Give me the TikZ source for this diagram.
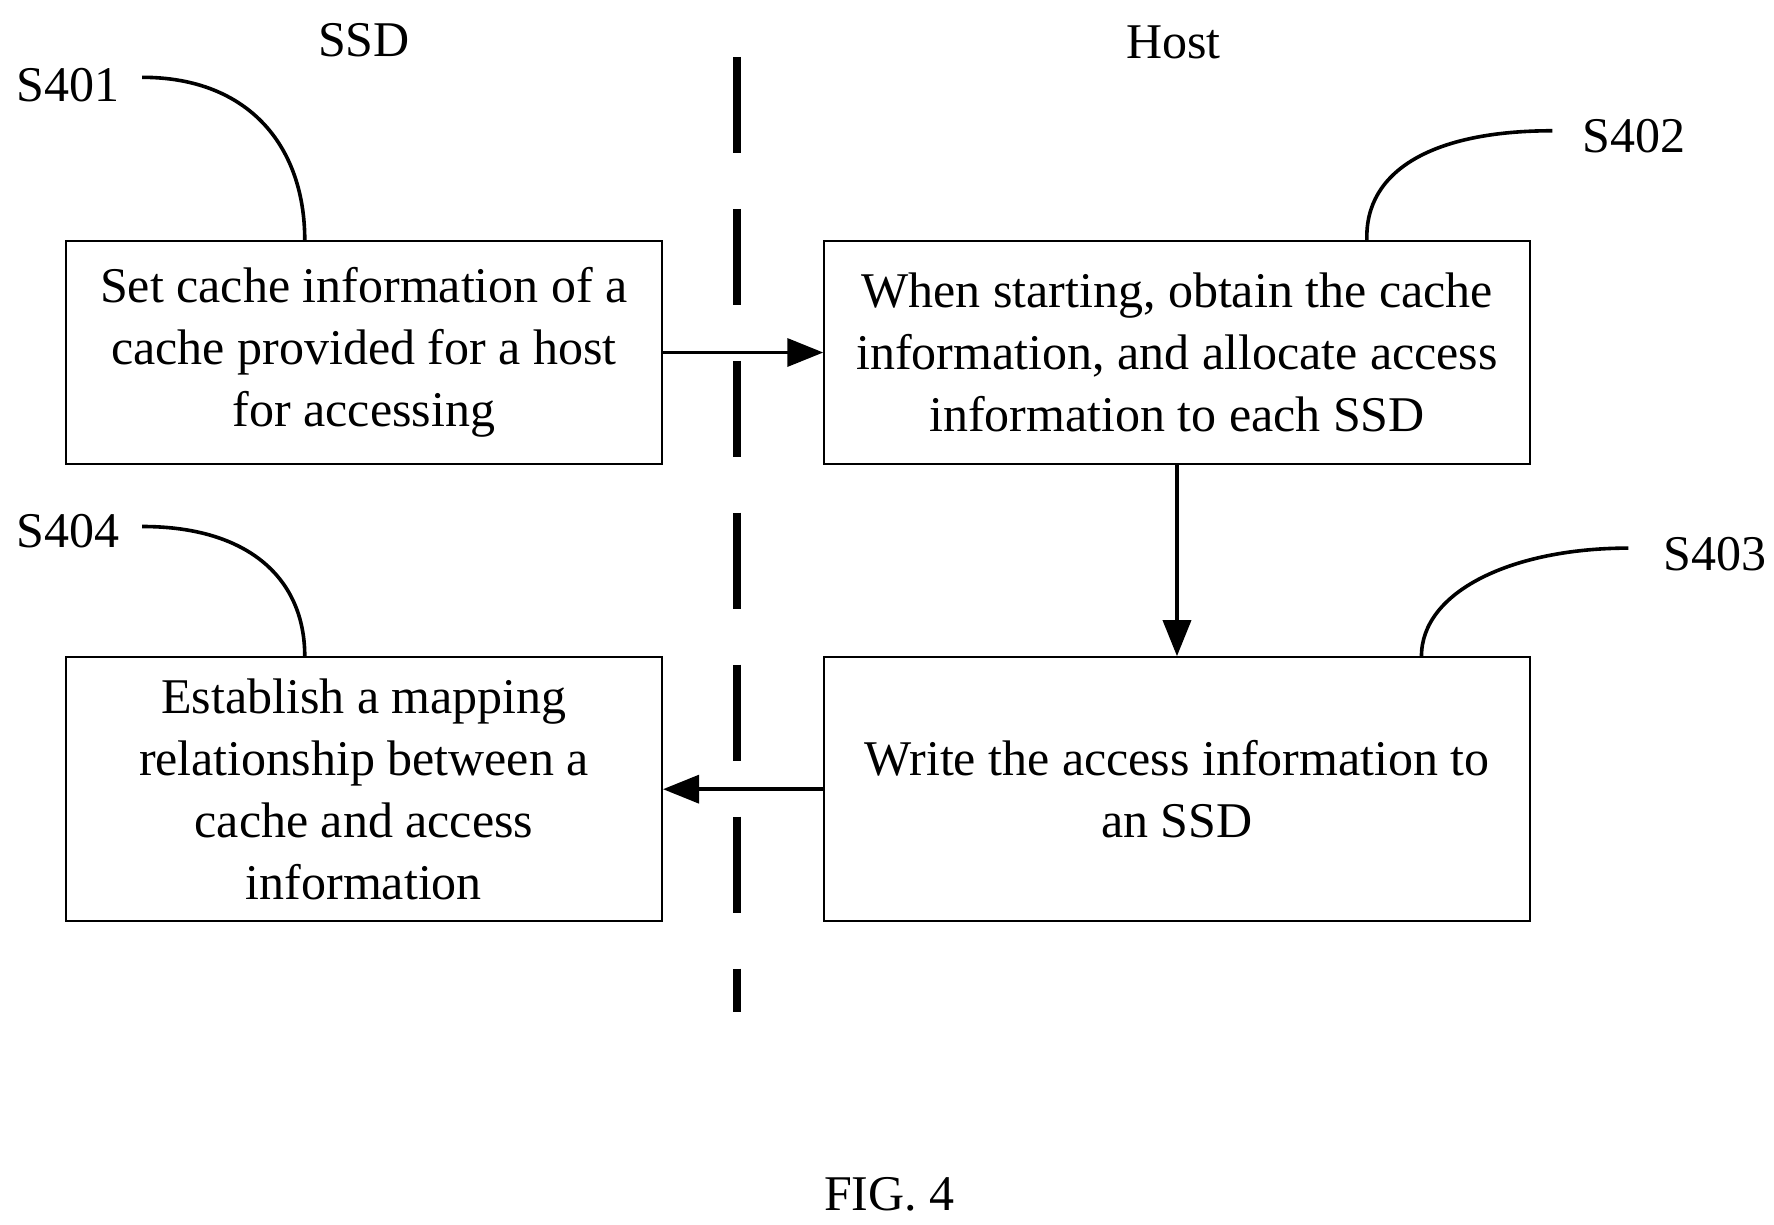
\documentclass[tikz,border=0pt]{standalone}
\usepackage{fontspec}
\setmainfont{Liberation Serif}
\usetikzlibrary{arrows.meta}
\begin{document}
\begin{tikzpicture}[x=0.01cm,y=-0.01cm,
 box/.style={draw,line width=0.5pt,align=center,font=\fontsize{12.5}{15.5}\selectfont,inner sep=0},
 lab/.style={font=\fontsize{12.5}{15}\selectfont},
 arr/.style={line width=0.9pt,-{Triangle[length=9pt,width=7pt]}},
 lead/.style={line width=0.9pt}]
\useasboundingbox (0,0) rectangle (1560,1077);
\node[box,minimum width=5.24cm,minimum height=1.96cm] (b1) at (320,310) {Set cache information of a\\cache provided for a host\\for accessing};
\node[box,minimum width=6.2cm,minimum height=1.96cm] (b2) at (1035,310) {When starting, obtain the cache\\information, and allocate access\\information to each SSD};
\node[box,minimum width=5.24cm,minimum height=2.32cm] (b4) at (320,694) {Establish a mapping\\relationship between a\\cache and access\\information};
\node[box,minimum width=6.2cm,minimum height=2.32cm] (b3) at (1035,694) {Write the access information to\\an SSD};
\node[lab] (ssd) at (320,35) {SSD};
\node[lab] (host) at (1032,37) {Host};
\node[lab] (fig) at (782,1050) {FIG. 4};
\node[lab] (l1) at (60,75) {S401};
\node[lab] (l2) at (1437,120) {S402};
\node[lab] (l3) at (1508,487) {S403};
\node[lab] (l4) at (60,467) {S404};
\coordinate (t) at (648,50); \coordinate (u) at (648,890);
\draw[line width=2pt,dash pattern=on 24pt off 14pt] (t) -- (u);
\coordinate (c1) at (125,68); \coordinate (c2) at (1365,115);
\coordinate (c3) at (1432,482); \coordinate (c4) at (125,463);
\draw[lead] (c1) .. controls (220,68) and (268,130) .. (b1.north -| 268,0);
\draw[lead] (c2) .. controls (1260,115) and (1200,150) .. (b2.north -| 1202,0);
\draw[lead] (c3) .. controls (1330,482) and (1250,520) .. (b3.north -| 1250,0);
\draw[lead] (c4) .. controls (220,463) and (268,510) .. (b4.north -| 268,0);
\draw[arr] (b1) -- (b2);
\draw[arr] (b2) -- (b3);
\draw[arr] (b3) -- (b4);
\end{tikzpicture}
\end{document}
